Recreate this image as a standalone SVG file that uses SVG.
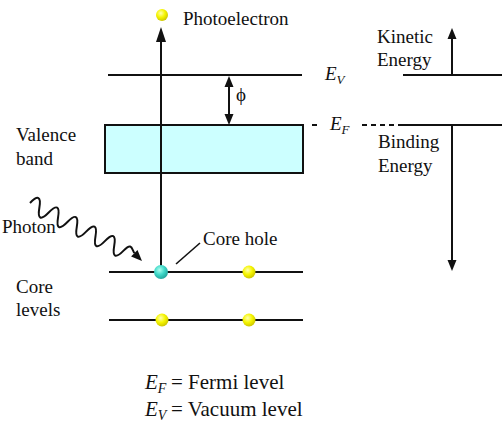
<svg xmlns="http://www.w3.org/2000/svg" width="504" height="444" viewBox="0 0 504 444">
<style>
text{font-family:"Liberation Serif",Tinos,"Times New Roman","DejaVu Serif",serif;fill:#111;font-size:19px}
.it{font-style:italic}
.big{font-size:21px}
.ln{stroke:#111;stroke-width:2;fill:none}
.thin{stroke:#111;stroke-width:1.6;fill:none}
.dash{stroke:#111;stroke-width:2;stroke-dasharray:5,4;fill:none}
.head{fill:#111}
</style>
<defs>
<radialGradient id="yel" cx="0.4" cy="0.35" r="0.7">
<stop offset="0" stop-color="#ffffb0"/>
<stop offset="0.5" stop-color="#f5f500"/>
<stop offset="1" stop-color="#c8c000"/>
</radialGradient>
<radialGradient id="cya" cx="0.4" cy="0.35" r="0.7">
<stop offset="0" stop-color="#b0fff0"/>
<stop offset="0.5" stop-color="#40d8c8"/>
<stop offset="1" stop-color="#20a098"/>
</radialGradient>
</defs>
<rect width="504" height="444" fill="#fff"/>

<g id="levels">
<line class="ln" x1="108" y1="75" x2="302" y2="75"/>
<line class="ln" x1="109" y1="272" x2="303" y2="272"/>
<line class="ln" x1="109" y1="320" x2="303" y2="320"/>
<line class="ln" x1="403" y1="75" x2="502" y2="75"/>
<line class="ln" x1="403" y1="125" x2="502" y2="125"/>
<line class="dash" x1="312" y1="125" x2="320" y2="125"/>
<line class="dash" x1="362" y1="125" x2="403" y2="125"/>
</g>

<g id="valence-band">
<rect x="105" y="125" width="198" height="48" fill="#ccffff" stroke="#111" stroke-width="2"/>
</g>

<g id="connectors">
<line class="ln" x1="161" y1="272" x2="161" y2="40"/>
<polygon class="head" points="161,27 156,42 166,42"/>
<line class="ln" x1="229" y1="85" x2="229" y2="116"/>
<polygon class="head" points="229,76 224.5,87 233.5,87"/>
<polygon class="head" points="229,125 224.5,114 233.5,114"/>
<line class="ln" x1="452" y1="75" x2="452" y2="38"/>
<polygon class="head" points="452,28 447.5,39 456.5,39"/>
<line class="ln" x1="452" y1="125" x2="452" y2="262"/>
<polygon class="head" points="452,271 447.5,260 456.5,260"/>
<path class="ln" transform="translate(30,203) rotate(27)" d="M0 0 C3.4 -11 7.1 -11 10.5 0 S17.6 11 21 0 S28.1 -11 31.5 0 S38.6 11 42 0 S49.1 -11 52.5 0 S59.6 11 63 0 S70.1 -11 73.5 0 S80.6 11 84 0 S91.1 -11 94.5 0 S101.6 11 105 0 C108.4 -11 111 -6 115.7 -2.7"/>
<polygon class="head" points="142,261 131.1,256.4 137.5,250"/>
<line class="thin" x1="176" y1="264" x2="200" y2="243"/>
</g>

<g id="photoelectron">
<circle cx="162" cy="15" r="6" fill="url(#yel)"/>
<text x="183" y="25">Photoelectron</text>
</g>
<g id="core-electrons">
<circle cx="161" cy="272" r="7" fill="url(#cya)"/>
<circle cx="249" cy="272" r="6.5" fill="url(#yel)"/>
<circle cx="162" cy="320" r="6.5" fill="url(#yel)"/>
<circle cx="249" cy="320" r="6.5" fill="url(#yel)"/>
</g>

<g id="labels">
<text x="16" y="141">Valence</text>
<text x="16" y="165">band</text>
<text x="2" y="233">Photon</text>
<text x="16" y="293">Core</text>
<text x="16" y="316">levels</text>
<text x="203" y="245">Core hole</text>
<text x="377" y="43">Kinetic</text>
<text x="377" y="66">Energy</text>
<text x="378" y="148">Binding</text>
<text x="378" y="172">Energy</text>
<text x="236" y="101">ϕ</text>
<text class="it" x="325" y="80">E<tspan font-size="13" dy="4">V</tspan></text>
<text class="it" x="330" y="130">E<tspan font-size="13" dy="4">F</tspan></text>
<text class="big" x="145" y="389"><tspan class="it">E</tspan><tspan class="it" font-size="14" dy="4">F</tspan><tspan x="171" dy="-4">= Fermi level</tspan></text>
<text class="big" x="145" y="416"><tspan class="it">E</tspan><tspan class="it" font-size="14" dy="4">V</tspan><tspan x="171" dy="-4">= Vacuum level</tspan></text>
</g>
</svg>
